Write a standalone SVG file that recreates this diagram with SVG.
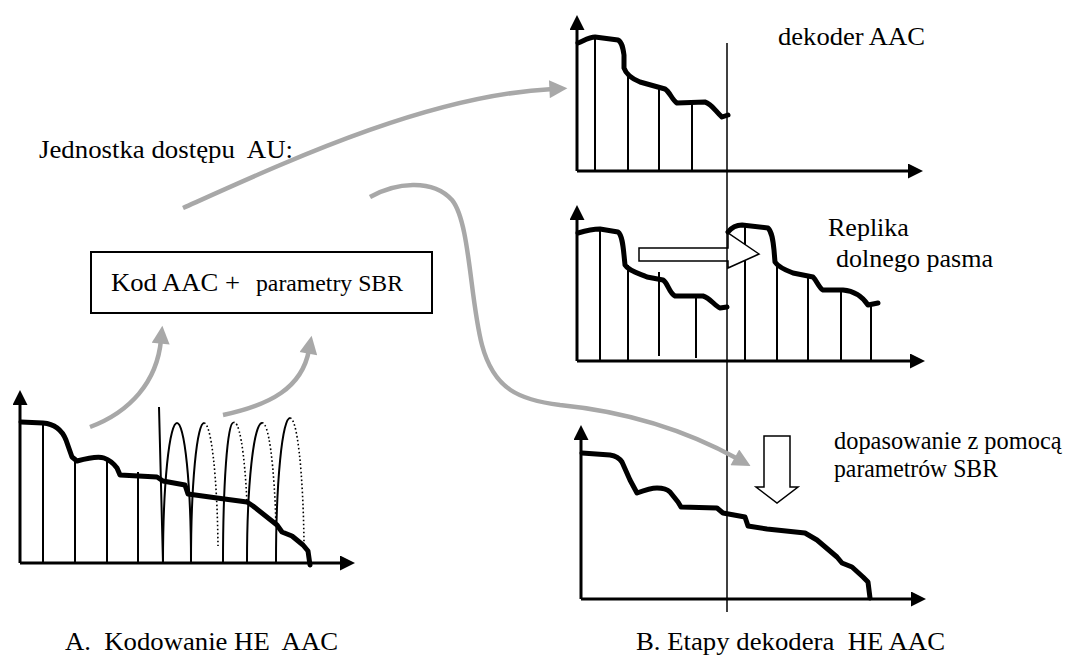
<svg xmlns="http://www.w3.org/2000/svg" width="1067" height="669" viewBox="0 0 1067 669">
  <style>
    text { font-family: "Liberation Serif", "Times New Roman", serif; fill: #000; white-space: pre; }
    .axis { stroke: #000; stroke-width: 3; fill: none; }
    .bar { stroke: #000; stroke-width: 2; fill: none; }
    .env { stroke: #000; stroke-width: 5; fill: none; stroke-linejoin: round; stroke-linecap: round; }
    .arch { stroke: #000; stroke-width: 2; fill: none; }
    .dot { stroke: #000; stroke-width: 1.6; fill: none; stroke-dasharray: 1.6 2.4; }
    .flow { stroke: #a8a8a8; stroke-width: 4.5; fill: none; }
    .hollow { stroke: #000; stroke-width: 1.5; fill: #fff; }
  </style>
  <defs>
    <marker id="ax" viewBox="0 0 10 10" refX="2" refY="5" markerWidth="15" markerHeight="15" markerUnits="userSpaceOnUse" orient="auto">
      <path d="M0,0 L10,5 L0,10 Z" fill="#000"/>
    </marker>
    <marker id="gr" viewBox="0 0 10 10" refX="2" refY="5" markerWidth="20" markerHeight="18" markerUnits="userSpaceOnUse" orient="auto">
      <path d="M0,0 L10,5 L0,10 Z" fill="#a8a8a8"/>
    </marker>
  </defs>

  <!-- A: encoder spectrum -->
  <g id="enc-graph">
    <path class="axis" d="M20,563 L20,402" marker-end="url(#ax)"/>
    <path class="axis" d="M20,563 L343,563" marker-end="url(#ax)"/>
    <path class="bar" d="M43,423 V563 M75,460 V563 M107,459 V563 M138,472 V563 M159,407 L163,563"/>
    <!-- replicated high band, solid rising flank and dotted falling flank -->
    <path class="arch" d="M163,562 A14,139 0 0 1 177,423 A14,139 0 0 1 191,562"/>
    <path class="arch" d="M191,562 A13,139 0 0 1 204,423"/>
    <path class="dot" d="M204,423 A14,139 0 0 1 218,546"/>
    <path class="arch" d="M223,562 A10,139 0 0 1 233,423"/>
    <path class="dot" d="M233,423 A14,139 0 0 1 247,503"/>
    <path class="arch" d="M247,562 A15,139 0 0 1 262,423"/>
    <path class="dot" d="M262,423 A14,139 0 0 1 276,527"/>
    <path class="arch" d="M276,562 A14,144 0 0 1 290,418"/>
    <path class="dot" d="M290,418 A14,144 0 0 1 304,542"/>
    <path class="env" d="M21,422 L43,423 C55,424 62,430 66,440 L72,457 L77,461 C88,458 98,456 104,458 C110,460 114,464 117,468 L120,475 L157,477 L163,481 L185,485 L188,494 L217,498 L247,502 L253,506 L277,525 L282,532 L292,536 L303,545 L308,551 L310,565"/>
  </g>

  <!-- access unit box -->
  <g id="au-box">
    <rect x="91" y="252" width="341" height="61" fill="#fff" stroke="#000" stroke-width="2"/>
    <text x="111" y="291" font-size="26" textLength="129" lengthAdjust="spacingAndGlyphs">Kod AAC +</text>
    <text x="256" y="291" font-size="23" textLength="147" lengthAdjust="spacingAndGlyphs">parametry SBR</text>
  </g>

  <g id="au-label">
    <text x="39" y="158" font-size="26" textLength="254" lengthAdjust="spacingAndGlyphs">Jednostka dostępu  AU:</text>
  </g>

  <!-- B1: AAC decoder output -->
  <g id="dec-aac">
    <path class="axis" d="M577,171 L577,27" marker-end="url(#ax)"/>
    <path class="axis" d="M577,171 L911,171" marker-end="url(#ax)"/>
    <path class="bar" d="M595,37 V171 M628,77 V171 M659,87 V171 M692,103 V171"/>
    <path class="env" d="M578,43 C585,40 590,37 595,37 L618,40 C622,42 623,48 624,55 L624,68 C626,74 630,78 640,82 L665,89 C670,92 672,100 677,103 L705,102 C712,104 716,112 722,117 L728,115"/>
    <text x="778" y="45" font-size="26" textLength="147" lengthAdjust="spacingAndGlyphs">dekoder AAC</text>
  </g>

  <!-- B2: low band replicated upward -->
  <g id="dec-replica">
    <path class="axis" d="M577,361 L577,217" marker-end="url(#ax)"/>
    <path class="axis" d="M577,361 L913,361" marker-end="url(#ax)"/>
    <path class="bar" d="M600,229 V361 M628,265 V361 M659,272 V356 M696,297 V358"/>
    <path class="bar" d="M745,225 V361 M777,265 V361 M808,276 V361 M841,290 V361 M871,305 V361"/>
    <path class="env" d="M578,233 C588,230 595,229 600,229 L618,232 C622,235 623,245 624,255 L625,265 C628,270 635,272 647,277 L663,280 C668,283 669,293 675,296 L703,296 C710,298 715,306 720,308 L727,307"/>
    <path class="env" d="M728,232 C732,227 737,225 742,225 L768,228 C772,232 773,240 774,250 L775,262 C778,267 785,270 793,273 L813,277 C817,281 819,288 823,290 L843,290 C855,291 862,296 868,305 L878,303"/>
    <polygon class="hollow" points="639,248 728,248 728,233 759,254 728,268 728,261 639,261"/>
    <text x="828" y="236" font-size="26">Replika</text>
    <text x="836" y="267" font-size="26" textLength="157" lengthAdjust="spacingAndGlyphs">dolnego pasma</text>
  </g>

  <!-- B3: envelope adjusted with SBR parameters -->
  <g id="dec-adjust">
    <path class="axis" d="M581,599 L581,437" marker-end="url(#ax)"/>
    <path class="axis" d="M581,599 L914,599" marker-end="url(#ax)"/>
    <path class="env" d="M582,453 L610,455 C616,456 620,459 622,462 L630,480 L637,493 C645,490 652,488 657,488 C664,488 668,490 670,492 L678,502 L681,507 L717,508 L723,513 L745,517 L748,526 L767,529 L805,533 L817,540 L837,557 L842,563 L852,567 L863,577 L868,582 L870,598"/>
    <polygon class="hollow" points="764,436 790,436 790,487 798,487 777,503 756,487 764,487"/>
    <text x="834" y="449" font-size="24.4">dopasowanie z pomocą</text>
    <text x="834" y="477" font-size="26" textLength="164" lengthAdjust="spacingAndGlyphs">parametrów SBR</text>
  </g>

  <!-- band split line -->
  <g id="split">
    <line x1="727" y1="43" x2="727" y2="612" stroke="#000" stroke-width="1.5"/>
  </g>

  <!-- data flow -->
  <g id="connectors">
    <path class="flow" d="M183,208 C290,160 430,95 553,89" marker-end="url(#gr)"/>
    <path class="flow" d="M370,197 C395,183 432,178 452,200 C470,222 470,300 482,345 C494,390 520,400 560,405 C640,413 700,438 738,459" marker-end="url(#gr)"/>
    <path class="flow" d="M90,427 C130,412 157,382 161,340" marker-end="url(#gr)"/>
    <path class="flow" d="M223,415 C270,405 302,388 309,350" marker-end="url(#gr)"/>
  </g>

  <g id="captions">
    <text x="65" y="650" font-size="26" textLength="273" lengthAdjust="spacingAndGlyphs">A.  Kodowanie HE  AAC</text>
    <text x="636" y="650" font-size="26" textLength="309" lengthAdjust="spacingAndGlyphs">B. Etapy dekodera  HE AAC</text>
  </g>
</svg>
